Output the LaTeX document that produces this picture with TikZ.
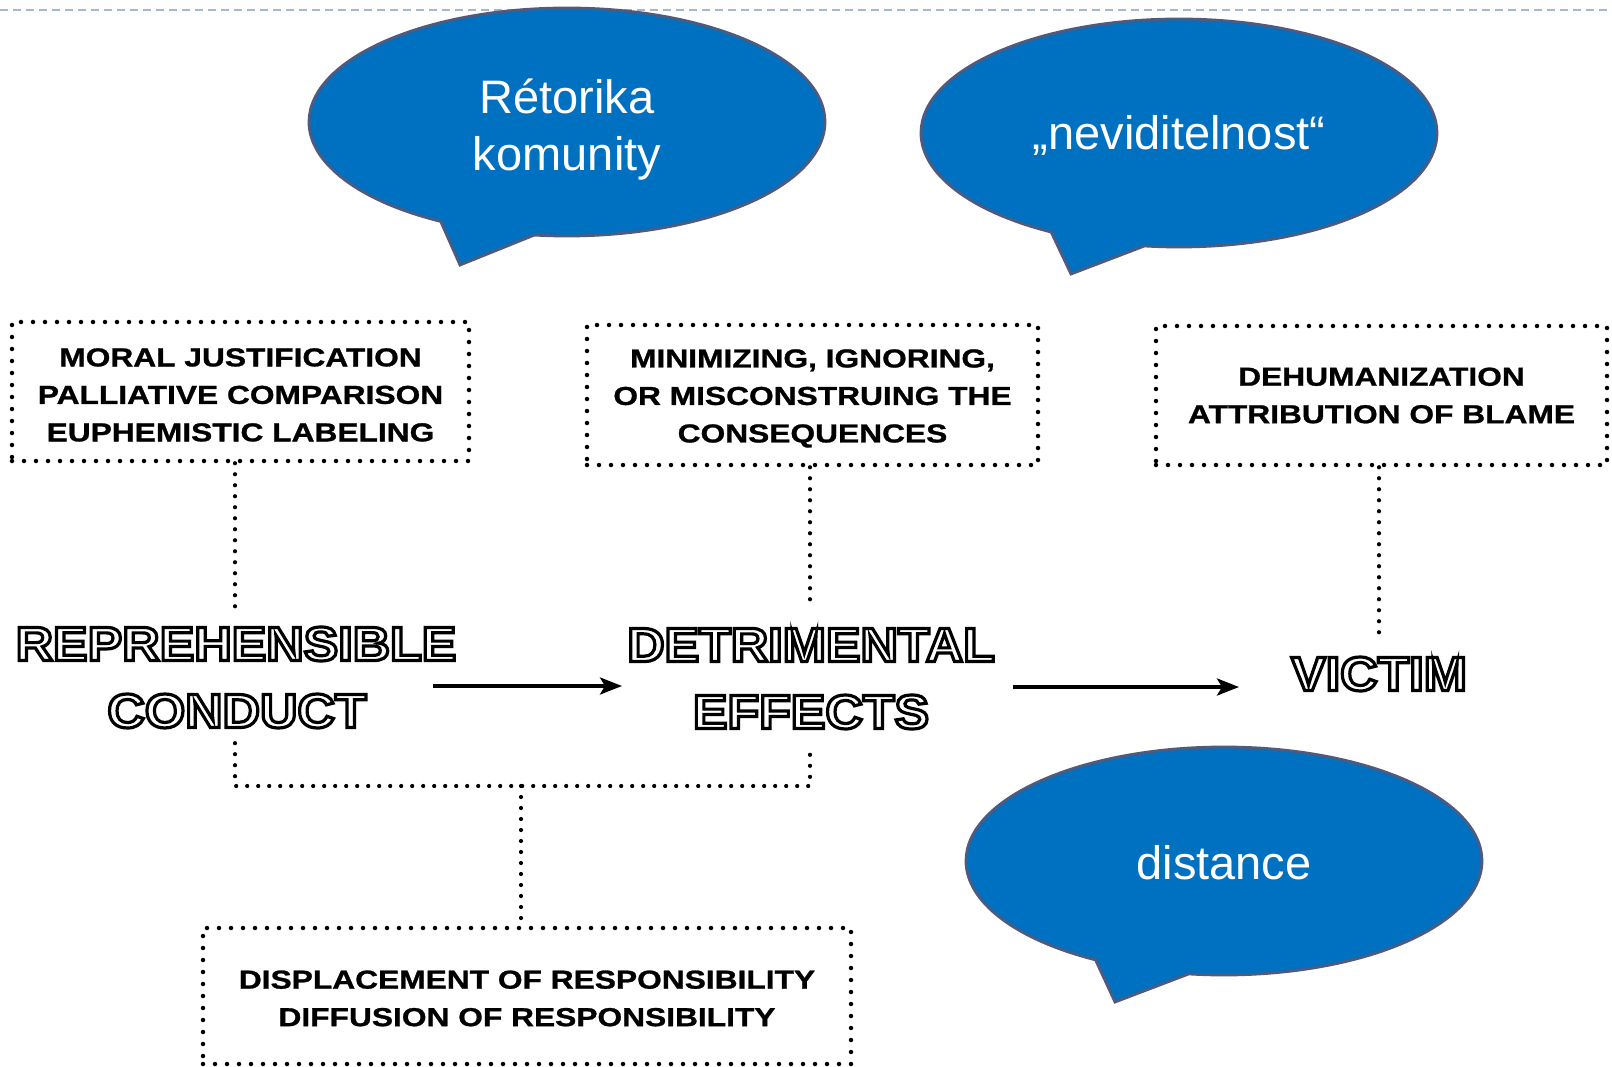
\documentclass[tikz,border=0pt]{standalone}
\usepackage{fontspec}
\usetikzlibrary{arrows.meta,shapes.callouts}
\setmainfont{Liberation Sans}
\newfontfamily\boxfont{Liberation Sans}[FakeStretch=1.22,BoldFeatures={FakeBold=1}]
\newfontfamily\bigfont{Liberation Sans}[FakeStretch=1.08]
\definecolor{bubblefill}{HTML}{0070C0}
\definecolor{bubbleedge}{HTML}{4E5A7E}
\definecolor{topcol}{HTML}{A5B8CE}
\newcommand{\hollow}[1]{{\color{white}\special{pdf:literal direct 0 0 0 RG 2 Tr 3.2 w}#1\special{pdf:literal direct 0 Tr 1 w}}}
\newcommand{\upstrut}[1]{\rule{0pt}{#1}}
\begin{document}
\begin{tikzpicture}[x=1pt,y=-1pt,
  bubble/.style={ellipse callout, draw=bubbleedge, line width=2.8pt, fill=bubblefill,
    text=white, minimum width=516pt, minimum height=228pt, callout pointer arc=22,
    align=center, inner sep=0pt, font=\fontsize{47}{57}\selectfont},
  dotbox/.style={draw, line width=4.5pt, dash pattern=on 0pt off 12pt, line cap=round,
    inner sep=0pt, align=center, font=\boxfont\bfseries\fontsize{26}{37.5}\selectfont},
  dotline/.style={line width=4.2pt, dash pattern=on 0pt off 11pt, line cap=round},
  big/.style={inner sep=0pt, font=\bigfont\bfseries\fontsize{48}{56}\selectfont},
  arr/.style={line width=3.5pt, -{Stealth[length=22pt,width=17pt,inset=5pt]}},
  topline/.style={draw=topcol, line width=1.6pt, dash pattern=on 8pt off 5pt}]
\useasboundingbox (0,0) rectangle (1612,1067);

% top dashed rule
\coordinate (tl) at (0,10);
\coordinate (tr) at (1612,10);
\draw[topline] (tl) -- (tr);

% speech bubbles
\node[bubble, callout absolute pointer={(460,265)}] (b1) at (567,122) {\upstrut{50pt}Rétorika\\komunity};
\node[bubble, callout absolute pointer={(1071,274)}] (b2) at (1179,133) {\upstrut{40pt}„neviditelnost“};
\node[bubble, callout absolute pointer={(1115,1002)}] (b3) at (1224,861) {\upstrut{38pt}distance};

% dotted boxes
\node[dotbox, minimum width=457pt, minimum height=139pt] (box1) at (240.5,391.5)
  {\upstrut{25pt}MORAL JUSTIFICATION\\PALLIATIVE COMPARISON\\EUPHEMISTIC LABELING};
\node[dotbox, minimum width=451pt, minimum height=140pt] (box2) at (812.5,395)
  {\upstrut{25pt}MINIMIZING, IGNORING,\\OR MISCONSTRUING THE\\CONSEQUENCES};
\node[dotbox, minimum width=451pt, minimum height=139pt] (box3) at (1381.5,395.5)
  {DEHUMANIZATION\\ATTRIBUTION OF BLAME};
\node[dotbox, minimum width=648pt, minimum height=136pt] (box4) at (527,996)
  {\upstrut{23pt}DISPLACEMENT OF RESPONSIBILITY\\DIFFUSION OF RESPONSIBILITY};

% big outlined words
\node[big] (rep1) at (236,644) {\hollow{REPREHENSIBLE}};
\node[big] (rep2) at (237,711) {\hollow{CONDUCT}};
\node[big] (det1) at (811,645) {\hollow{DETRIMENTAL}};
\node[big] (det2) at (811,712) {\hollow{EFFECTS}};
\node[big] (victim) at (1379,674) {\hollow{VICTIM}};

% dotted connectors
\draw[dotline] ([shift={(-1,0)}]rep1.north |- box1.south) -- ([shift={(-1,-18)}]rep1.north);
\draw[dotline] ([shift={(-1,0)}]det1.north |- box2.south) -- ([shift={(-1,-25)}]det1.north);
\draw[dotline] (victim.north |- box3.south) -- ([shift={(0,-22)}]victim.north);
\coordinate (br) at (521,786);
\draw[dotline] ([shift={(-2,15)}]rep2.south) |- (br) -| ([shift={(-1,15)}]det2.south);
\draw[dotline] (br) -- (br |- box4.north);

% arrows
\draw[arr] ([shift={(197,42)}]rep1.center) -- ([shift={(-189,41)}]det1.center);
\draw[arr] ([shift={(202,42)}]det1.center) -- ([shift={(-140,13)}]victim.center);
\end{tikzpicture}
\end{document}
